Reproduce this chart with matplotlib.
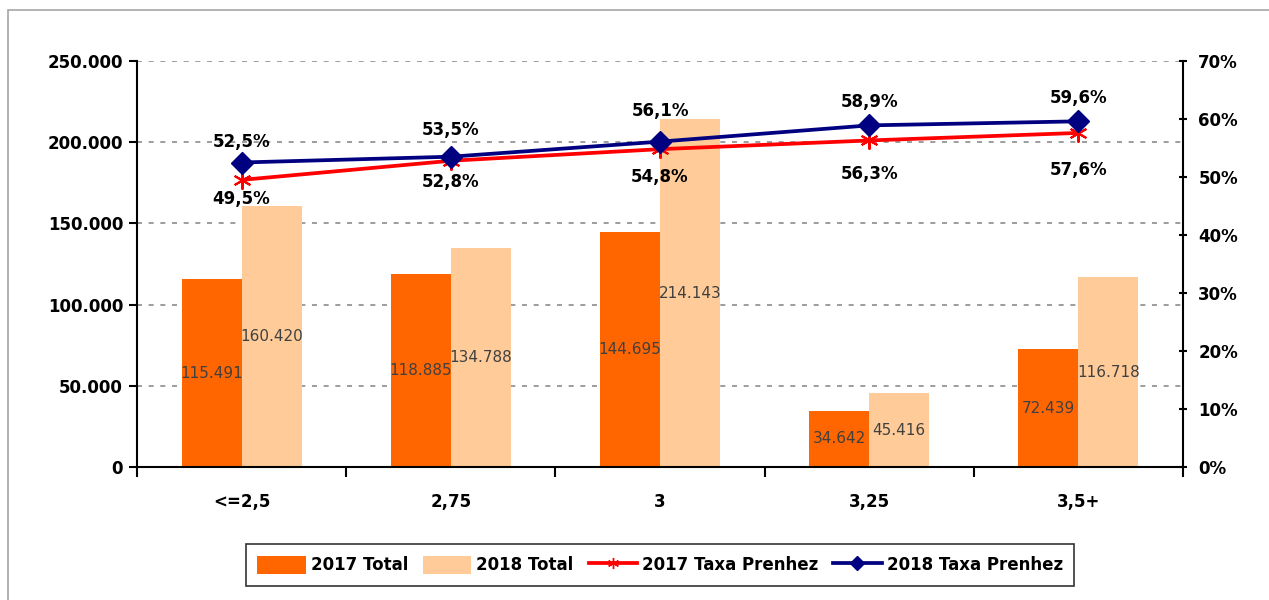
import matplotlib
matplotlib.use("Agg")
import matplotlib.pyplot as plt
import numpy as np
from matplotlib.patches import Rectangle, Patch
from matplotlib.lines import Line2D
from matplotlib.ticker import FuncFormatter, FixedLocator

categories = ["<=2,5", "2,75", "3", "3,25", "3,5+"]
total_2017 = [115491, 118885, 144695, 34642, 72439]
total_2018 = [160420, 134788, 214143, 45416, 116718]
taxa_2017 = [49.5, 52.8, 54.8, 56.3, 57.6]
taxa_2018 = [52.5, 53.5, 56.1, 58.9, 59.6]
left_ticks = [0, 50000, 100000, 150000, 200000, 250000]
right_ticks = [0, 10, 20, 30, 40, 50, 60, 70]

# label offsets (points) for the percentage labels
off_2018 = [15, 19, 22, 17, 17]
off_2017 = [-14, -15, -20, -24, -27]

C17 = "#FF6600"
C18 = "#FFCC99"
RED = "#FF0000"
NAVY = "#000080"

plt.rcParams['font.family'] = ['DejaVu Sans']

fig = plt.figure(figsize=(12.69, 6.0), dpi=100)
ax = fig.add_axes([137/1269, 1-467/600, (1183-137)/1269, (467-61)/600])

# outer border (partial, like the reference)
fig.patches.append(Rectangle((8/1269, -0.1), 1.2, 1-10/600+0.1, transform=fig.transFigure,
                             fill=False, edgecolor="#A6A6A6", linewidth=1.2, zorder=0))

x = np.arange(len(categories))
w = 0.287
b17 = ax.bar(x - w/2, total_2017, width=w, color=C17, zorder=2)
b18 = ax.bar(x + w/2, total_2018, width=w, color=C18, zorder=2)

def fmt_thousands(v):
    return f"{int(round(v)):,}".replace(",", ".")

for bars, vals in ((b17, total_2017), (b18, total_2018)):
    for r, v in zip(bars, vals):
        ax.text(r.get_x() + r.get_width()/2, v/2, fmt_thousands(v), ha="center", va="center",
                fontsize=11, color="#404040", zorder=5)

ax.set_xlim(-0.5, len(categories)-0.5)
ax.set_ylim(0, 250000)
ax.yaxis.set_major_locator(FixedLocator(left_ticks))
ax.yaxis.set_major_formatter(FuncFormatter(lambda v, p: fmt_thousands(v)))
ax.grid(axis="y", color="#8C8C8C", linestyle=(0, (3, 4)), linewidth=1.2, zorder=0)
ax.set_axisbelow(True)

ax.set_xticks(x)
ax.set_xticklabels(categories)
ax.set_xticks(np.arange(len(categories)+1) - 0.5, minor=True)
ax.tick_params(axis="x", which="major", length=0, pad=19)
ax.tick_params(axis="x", which="minor", length=7, width=1.5, direction="out")
ax.tick_params(axis="y", length=6, width=1.5, direction="out", pad=4)
for lab in ax.get_xticklabels() + ax.get_yticklabels():
    lab.set_fontsize(12)
    lab.set_fontweight("bold")

for s in ("top", "right"):
    ax.spines[s].set_visible(False)
ax.spines["left"].set_linewidth(1.5)
ax.spines["bottom"].set_linewidth(1.5)

ax2 = ax.twinx()
ax2.set_ylim(0, 70)
ax2.yaxis.set_major_locator(FixedLocator(right_ticks))
ax2.yaxis.set_major_formatter(FuncFormatter(lambda v, p: f"{int(v)}%"))
ax2.tick_params(axis="y", length=6, width=1.5, direction="inout", pad=8)
for lab in ax2.get_yticklabels():
    lab.set_fontsize(12)
    lab.set_fontweight("bold")
for s in ("top", "left", "bottom"):
    ax2.spines[s].set_visible(False)
ax2.spines["right"].set_linewidth(1.5)

ax2.plot(x, taxa_2017, color=RED, linewidth=2.7, marker=(6, 2, 0), markersize=13,
         markeredgewidth=1.5, markeredgecolor=RED, zorder=4)
ax2.plot(x, taxa_2018, color=NAVY, linewidth=2.7, marker="D", markersize=11,
         markerfacecolor=NAVY, markeredgecolor=NAVY, zorder=5)

for xi, v, o in zip(x, taxa_2018, off_2018):
    ax2.annotate(f"{v:.1f}%".replace(".", ","), (xi, v), xytext=(0, o), textcoords="offset points",
                 ha="center", va="center", fontsize=12, fontweight="bold", color="black")
for xi, v, o in zip(x, taxa_2017, off_2017):
    ax2.annotate(f"{v:.1f}%".replace(".", ","), (xi, v), xytext=(0, o), textcoords="offset points",
                 ha="center", va="center", fontsize=12, fontweight="bold", color="black")

handles = [Patch(facecolor=C17), Patch(facecolor=C18),
           Line2D([], [], color=RED, linewidth=2.7, marker=(6, 2, 0), markersize=8),
           Line2D([], [], color=NAVY, linewidth=2.7, marker="D", markersize=7)]
labels = ["2017 Total", "2018 Total", "2017 Taxa Prenhez", "2018 Taxa Prenhez"]
leg = fig.legend(handles, labels, loc="center", bbox_to_anchor=(660/1269, 1-565/600), ncol=4,
                 frameon=True, fancybox=False, edgecolor="black", handlelength=2.9,
                 handleheight=1.3, handletextpad=0.3, columnspacing=0.9, borderpad=0.7,
                 borderaxespad=0, prop={"size": 12, "weight": "bold"})
leg.get_frame().set_linewidth(1.2)

fig.savefig("out.png", dpi=100)
